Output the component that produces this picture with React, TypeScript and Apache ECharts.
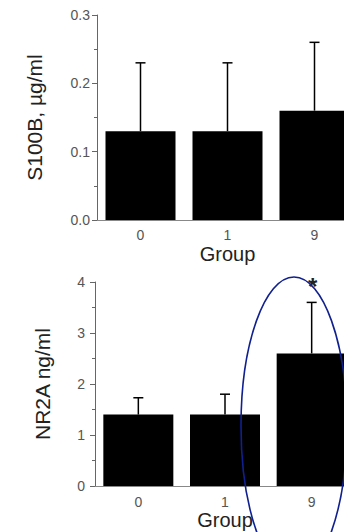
import React, { useEffect, useRef } from "react";
import * as echarts from "echarts";

const groups = ["0", "1", "9"];
const s100bMean = [0.13, 0.13, 0.16];
const s100bUpper = [0.23, 0.23, 0.26];
const nr2aMean = [1.4, 1.4, 2.6];
const nr2aUpper = [1.73, 1.8, 3.6];
const nr2aMarks = ["", "", "*"];
const s100bTicks = [0, 0.1, 0.2, 0.3];
const nr2aTicks = [0, 1, 2, 3, 4];

const FONT = "Liberation Sans, Arial, Helvetica, sans-serif";

function errRender(upper: number[], means: number[], marks?: string[]) {
  return (params: any, api: any) => {
    const i = api.value(0);
    const top = api.coord([i, upper[i]]);
    const base = api.coord([i, means[i]]);
    const cap = 5;
    const children: any[] = [
      { type: "line", shape: { x1: top[0], y1: base[1], x2: top[0], y2: top[1] }, style: { stroke: "#000", lineWidth: 1.5 } },
      { type: "line", shape: { x1: top[0] - cap, y1: top[1], x2: top[0] + cap, y2: top[1] }, style: { stroke: "#000", lineWidth: 1.5 } },
    ];
    if (marks && marks[i]) {
      children.push({
        type: "text",
        style: { text: marks[i], x: top[0] + 1, y: top[1] - 4, align: "center", verticalAlign: "bottom", fontSize: 24, fontWeight: "bold", fontFamily: FONT, fill: "#222" },
      });
    }
    return { type: "group", children };
  };
}

export default function App() {
  const ref = useRef<HTMLDivElement>(null);
  useEffect(() => {
    if (!ref.current) return;
    const chart = echarts.init(ref.current, null, { renderer: "svg" });
    const axisColor = "#666";
    const xAxisCommon = (gridIndex: number, margin: number, nameGap: number) => ({
      type: "category",
      gridIndex,
      data: groups,
      name: "Group",
      nameLocation: "middle",
      nameGap,
      nameTextStyle: { fontSize: 20, fontFamily: FONT, color: "#222", verticalAlign: "top" },
      axisLine: { show: true, lineStyle: { color: "#888", width: 1 } },
      axisTick: { show: false },
      axisLabel: { fontSize: 14, fontFamily: FONT, color: "#555", margin },
    });
    const yAxisCommon = (gridIndex: number, ticks: number[], name: string, nameGap: number, margin: number, fmt: (v: number) => string) => ({
      type: "value",
      gridIndex,
      min: ticks[0],
      max: ticks[ticks.length - 1],
      interval: ticks[1] - ticks[0],
      name,
      nameLocation: "middle",
      nameGap,
      nameTextStyle: { fontSize: 21, fontFamily: FONT, color: "#222" },
      axisLine: { show: true, lineStyle: { color: axisColor, width: 1 } },
      axisTick: { show: true, length: 5, lineStyle: { color: axisColor } },
      minorTick: { show: true, splitNumber: 2, length: 3, lineStyle: { color: axisColor } },
      splitLine: { show: false },
      axisLabel: { fontSize: 14, fontFamily: FONT, color: "#555", margin, formatter: fmt },
    });
    chart.setOption({
      animation: false,
      grid: [
        { left: 97, top: 15, width: 261, height: 205, outerBoundsMode: "none", containLabel: false },
        { left: 95, top: 282, width: 260, height: 204, outerBoundsMode: "none", containLabel: false },
      ],
      xAxis: [xAxisCommon(0, 8, 24), xAxisCommon(1, 9, 22)],
      yAxis: [
        yAxisCommon(0, s100bTicks, "S100B, µg/ml", 52, 7, (v: number) => v.toFixed(1)),
        yAxisCommon(1, nr2aTicks, "NR2A ng/ml", 42, 10, (v: number) => String(v)),
      ],
      series: [
        { type: "bar", xAxisIndex: 0, yAxisIndex: 0, data: s100bMean, barWidth: 70, itemStyle: { color: "#000" } },
        {
          type: "custom", xAxisIndex: 0, yAxisIndex: 0,
          data: groups.map((_, i) => [i, s100bUpper[i]]),
          renderItem: errRender(s100bUpper, s100bMean), z: 5,
        },
        { type: "bar", xAxisIndex: 1, yAxisIndex: 1, data: nr2aMean, barWidth: 70, itemStyle: { color: "#000" } },
        {
          type: "custom", xAxisIndex: 1, yAxisIndex: 1,
          data: groups.map((_, i) => [i, nr2aUpper[i]]),
          renderItem: errRender(nr2aUpper, nr2aMean, nr2aMarks), z: 5,
        },
      ],
      graphic: [
        {
          type: "ellipse",
          shape: { cx: 294, cy: 426, rx: 53, ry: 149 },
          style: { fill: "none", stroke: "#10208f", lineWidth: 1.6 },
          z: 10,
        },
      ],
    });
    return () => chart.dispose();
  }, []);
  return <div ref={ref} style={{ position: "fixed", left: 0, top: 0, width: 344, height: 532, background: "#fff" }} />;
}
